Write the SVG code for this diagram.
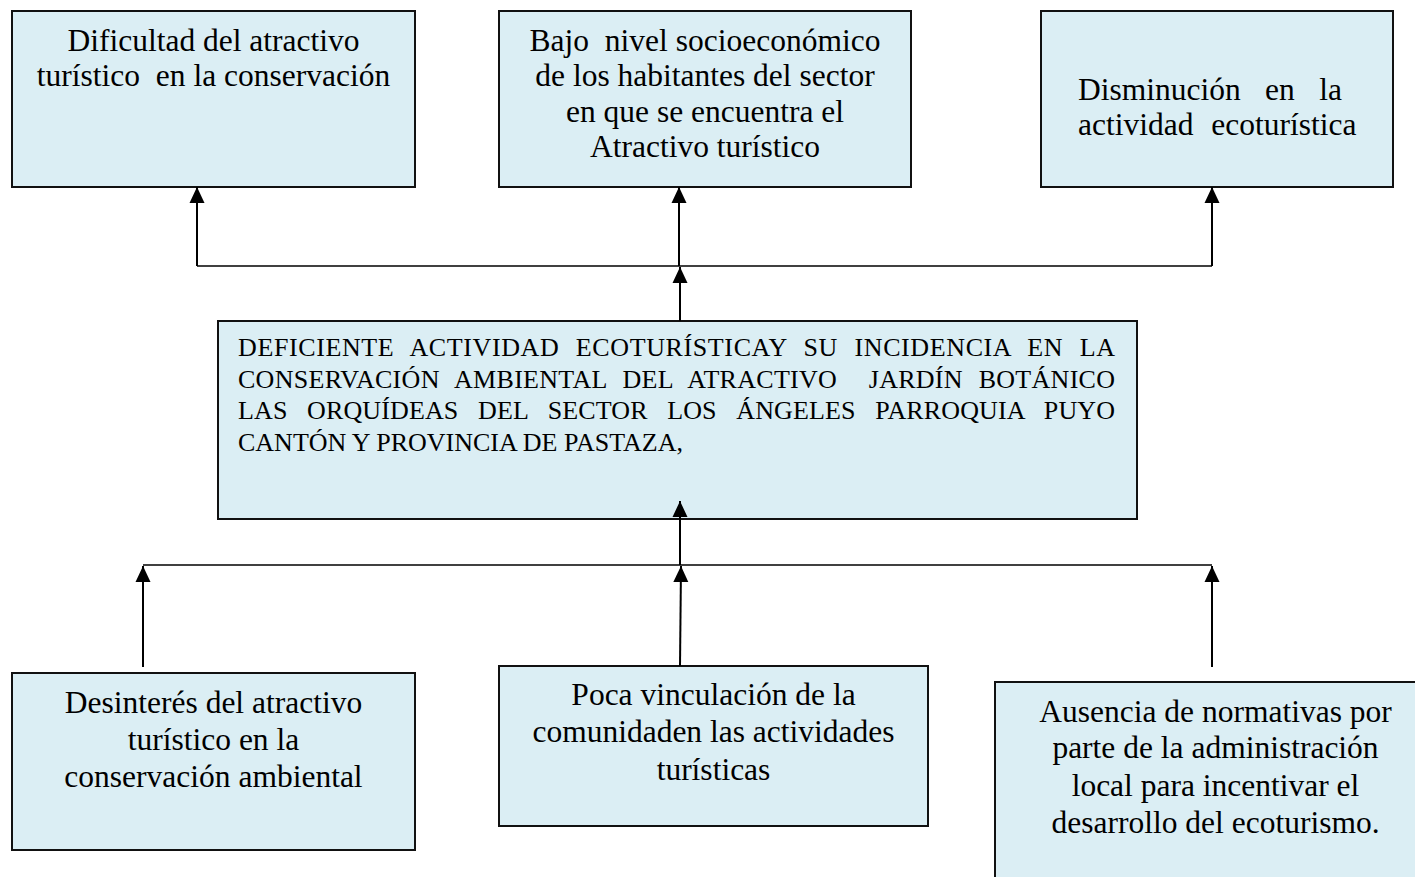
<svg xmlns="http://www.w3.org/2000/svg" width="1415" height="877" viewBox="0 0 1415 877">
<style>
.box{fill:#DBEEF4;stroke:#111;stroke-width:2}
.t{font-family:"Liberation Serif","Times New Roman",serif;font-size:31.5px;fill:#000}
.c{text-anchor:middle}
.m{font-family:"Liberation Serif","Times New Roman",serif;font-size:26px;fill:#000}
.v{fill:none;stroke:#000;stroke-width:2}
.h{fill:none;stroke:#000;stroke-width:1.4}
</style>
<defs>
<marker id="ah" markerUnits="userSpaceOnUse" markerWidth="16" markerHeight="16" viewBox="0 0 16 16" refX="16" refY="8" orient="auto">
<path d="M0,0.5 L16,8 L0,15.5 z" fill="#000"/>
</marker>
</defs>
<rect width="1415" height="877" fill="#fff"/>

<g id="node-efecto1">
<rect class="box" x="12" y="11" width="403" height="176"/>
<text class="t c" xml:space="preserve"><tspan x="213.5" y="51">Dificultad del atractivo</tspan><tspan x="213.5" y="86">turístico  en la conservación</tspan></text>
</g>

<g id="node-efecto2">
<rect class="box" x="499" y="11" width="412" height="176"/>
<text class="t c" xml:space="preserve"><tspan x="705" y="51">Bajo  nivel socioeconómico</tspan><tspan x="705" y="86">de los habitantes del sector</tspan><tspan x="705" y="122">en que se encuentra el</tspan><tspan x="705" y="157">Atractivo turístico</tspan></text>
</g>

<g id="node-efecto3">
<rect class="box" x="1041" y="11" width="352" height="176"/>
<text class="t" x="1078" y="100" word-spacing="16.5">Disminución en la</text>
<text class="t" x="1078" y="135" word-spacing="10">actividad ecoturística</text>
</g>

<g id="node-problema">
<rect class="box" x="218" y="321" width="919" height="198"/>
<text class="m" xml:space="preserve" x="238" y="356" word-spacing="9.4" textLength="877" lengthAdjust="spacing">DEFICIENTE ACTIVIDAD ECOTURÍSTICAY SU INCIDENCIA EN LA</text>
<text class="m" xml:space="preserve" x="238" y="388" word-spacing="9" textLength="877" lengthAdjust="spacing">CONSERVACIÓN AMBIENTAL DEL ATRACTIVO  JARDÍN BOTÁNICO</text>
<text class="m" xml:space="preserve" x="238" y="419" word-spacing="13" textLength="877" lengthAdjust="spacing">LAS ORQUÍDEAS DEL SECTOR LOS ÁNGELES PARROQUIA PUYO</text>
<text class="m" x="238" y="451">CANTÓN Y PROVINCIA DE PASTAZA,</text>
</g>

<g id="node-causa1">
<rect class="box" x="12" y="673" width="403" height="177"/>
<text class="t c"><tspan x="213.5" y="713">Desinterés del atractivo</tspan><tspan x="213.5" y="750">turístico en la</tspan><tspan x="213.5" y="787">conservación ambiental</tspan></text>
</g>

<g id="node-causa2">
<rect class="box" x="499" y="666" width="429" height="160"/>
<text class="t c"><tspan x="713.5" y="705">Poca vinculación de la</tspan><tspan x="713.5" y="742">comunidaden las actividades</tspan><tspan x="713.5" y="780">turísticas</tspan></text>
</g>

<g id="node-causa3">
<rect class="box" x="995" y="682" width="441" height="220"/>
<text class="t c"><tspan x="1215.5" y="722">Ausencia de normativas por</tspan><tspan x="1215.5" y="758">parte de la administración</tspan><tspan x="1215.5" y="796">local para incentivar el</tspan><tspan x="1215.5" y="833">desarrollo del ecoturismo.</tspan></text>
</g>

<g id="connectors">
<path class="h" d="M197,266 H1212"/>
<line class="v" x1="197" y1="266" x2="197" y2="187" marker-end="url(#ah)"/>
<line class="v" x1="679" y1="266" x2="679" y2="187" marker-end="url(#ah)"/>
<line class="v" x1="1212" y1="266" x2="1212" y2="187" marker-end="url(#ah)"/>
<line class="v" x1="680" y1="321" x2="680" y2="267" marker-end="url(#ah)"/>
<line class="v" x1="680" y1="565" x2="680" y2="501" marker-end="url(#ah)"/>
<path class="h" d="M143,565 H1212"/>
<line class="v" x1="143" y1="667" x2="143" y2="566" marker-end="url(#ah)"/>
<line class="v" x1="680" y1="666" x2="681" y2="566" marker-end="url(#ah)"/>
<line class="v" x1="1212" y1="667" x2="1212" y2="566" marker-end="url(#ah)"/>
</g>
</svg>
